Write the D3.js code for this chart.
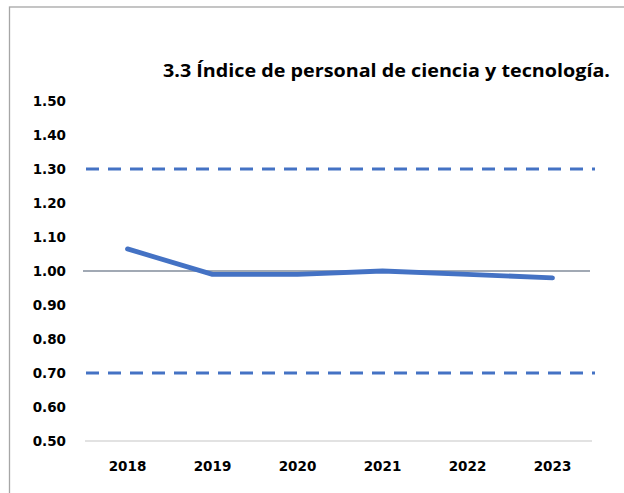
<!DOCTYPE html>
<html>
<head>
<meta charset="utf-8">
<script src="https://cdn.jsdelivr.net/npm/d3@7"></script>
<style>
  body { margin: 0; background: #fff; }
</style>
</head>
<body>
<script>
// datos del grafico
var years = ["2018", "2019", "2020", "2021", "2022", "2023"];
var indice = [1.065, 0.99, 0.99, 1.00, 0.99, 0.98];
var yTicks = [0.50, 0.60, 0.70, 0.80, 0.90, 1.00, 1.10, 1.20, 1.30, 1.40, 1.50];
var limites = [1.30, 0.70];
var referencia = 1.00;
var titulo = "3.3 Índice de personal de ciencia y tecnología.";

var w = 624, h = 493;
var mLeft = 85, mRight = 595, mTop = 101, mBottom = 441;
var fuenteEjes = "'DejaVu Sans', sans-serif";

var svg = d3.select("body").append("svg")
    .attr("width", w)
    .attr("height", h);

// marco
svg.append("rect")
    .attr("x", 9.5).attr("y", 7)
    .attr("width", 640).attr("height", 520)
    .attr("fill", "none")
    .attr("stroke", "#a6a6a6")
    .attr("stroke-width", 1.3);

var xScale = d3.scaleBand()
    .domain(years)
    .range([mLeft, mRight]);

var yScale = d3.scaleLinear()
    .domain([0.5, 1.5])
    .range([mBottom, mTop]);

// titulo
svg.append("text")
    .attr("x", 163).attr("y", 77)
    .style("font-family", "'Open Sans', sans-serif")
    .style("font-weight", "bold")
    .style("font-size", "17px")
    .attr("fill", "#000")
    .attr("textLength", 447)
    .attr("lengthAdjust", "spacingAndGlyphs")
    .text(titulo);

// eje y (solo etiquetas)
var yAxis = d3.axisLeft(yScale)
    .tickValues(yTicks)
    .tickFormat(d3.format(".2f"))
    .tickSize(0)
    .tickPadding(0);

svg.append("g")
    .attr("transform", "translate(66,0)")
    .call(yAxis)
    .call(function(g) { g.select(".domain").remove(); })
    .selectAll("text")
    .style("font-size", "13.5px")
    .style("font-family", fuenteEjes)
    .style("font-weight", "bold")
    .attr("fill", "#000");

// eje x
var xAxis = d3.axisBottom(xScale).tickSize(0).tickPadding(0);
svg.append("g")
    .attr("transform", "translate(0," + (mBottom + 20) + ")")
    .call(xAxis)
    .call(function(g) { g.select(".domain").remove(); })
    .selectAll("text")
    .style("font-size", "13.5px")
    .style("font-family", fuenteEjes)
    .style("font-weight", "bold")
    .attr("fill", "#000");

// linea base
svg.append("line")
    .attr("x1", mLeft).attr("x2", mRight - 3)
    .attr("y1", yScale(0.5)).attr("y2", yScale(0.5))
    .attr("stroke", "#d9d9d9")
    .attr("stroke-width", 1.5);

// limites discontinuos
svg.selectAll(".limite")
    .data(limites)
    .enter()
    .append("line")
    .attr("class", "limite")
    .attr("x1", mLeft + 1).attr("x2", mRight)
    .attr("y1", function(d) { return yScale(d); })
    .attr("y2", function(d) { return yScale(d); })
    .attr("stroke", "#4472c4")
    .attr("stroke-width", 3)
    .attr("stroke-dasharray", "13,9");

// linea de referencia 1.00
svg.append("line")
    .attr("x1", 83).attr("x2", 590)
    .attr("y1", yScale(referencia)).attr("y2", yScale(referencia))
    .attr("stroke", "#44546a")
    .attr("stroke-width", 1.2);

// serie
var line = d3.line()
    .x(function(d, i) { return xScale(years[i]) + xScale.bandwidth() / 2; })
    .y(function(d) { return yScale(d); });

svg.append("path")
    .datum(indice)
    .attr("d", line)
    .attr("fill", "none")
    .attr("stroke", "#4472c4")
    .attr("stroke-width", 4.8)
    .attr("stroke-linecap", "round")
    .attr("stroke-linejoin", "round");
</script>
</body>
</html>
